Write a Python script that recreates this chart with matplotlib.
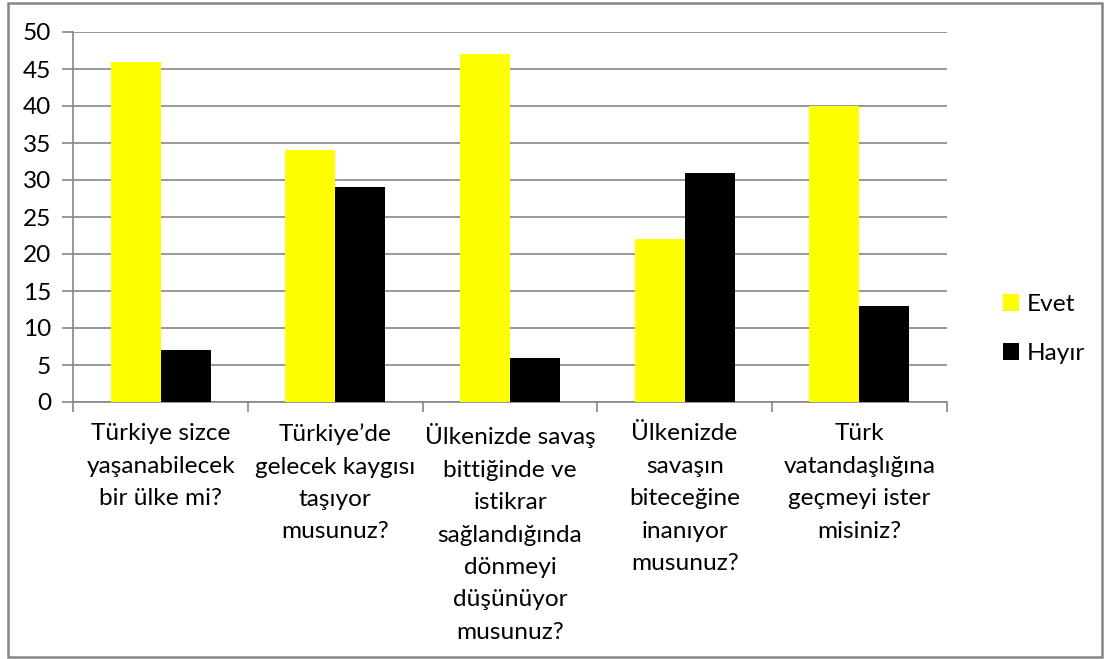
import matplotlib
matplotlib.use("Agg")
import matplotlib.pyplot as plt
from matplotlib.patches import Rectangle, Patch
import numpy as np

categories = [
    "Türkiye sizce\nyaşanabilecek\nbir ülke mi?",
    "Türkiye’de\ngelecek kaygısı\ntaşıyor\nmusunuz?",
    "Ülkenizde savaş\nbittiğinde ve\nistikrar\nsağlandığında\ndönmeyi\ndüşünüyor\nmusunuz?",
    "Ülkenizde\nsavaşın\nbiteceğine\ninanıyor\nmusunuz?",
    "Türk\nvatandaşlığına\ngeçmeyi ister\nmisiniz?",
]
evet = [46, 34, 47, 22, 40]
hayir = [7, 29, 6, 31, 13]
series_names = ["Evet", "Hayır"]
yticks = [0, 5, 10, 15, 20, 25, 30, 35, 40, 45, 50]

plt.rcParams['font.family'] = ['Lato', 'DejaVu Sans']
FS = 17.6
GRID = '#868686'

fig = plt.figure(figsize=(11.18, 6.59), dpi=100)
W, H = 1118, 659
ax = fig.add_axes([73.3 / W, 1 - 402 / H, (946.7 - 73.3) / W, (402 - 32) / H])

x = np.arange(len(categories))
bw = 1 / 3.5
ax.bar(x - bw / 2, evet, width=bw, color='#FFFF00', label=series_names[0], zorder=3)
ax.bar(x + bw / 2, hayir, width=bw, color='#000000', label=series_names[1], zorder=3)

ax.set_xlim(-0.5, len(categories) - 0.5)
ax.set_ylim(0, 50)
ax.set_yticks(yticks)
ax.set_yticklabels([str(v) for v in yticks], fontsize=FS)
ax.yaxis.grid(True, color=GRID, linewidth=1.2, zorder=0)
ax.set_axisbelow(True)
ax.tick_params(axis='y', length=8, width=1.2, color=GRID, pad=8)
ax.set_xticks(np.arange(-0.5, len(categories), 1.0))
ax.set_xticklabels([])
ax.tick_params(axis='x', length=7, width=1.2, color=GRID)
for s in ['top', 'right']:
    ax.spines[s].set_visible(False)
for s in ['left', 'bottom']:
    ax.spines[s].set_color(GRID)
    ax.spines[s].set_linewidth(1.2)

for i, lab in enumerate(categories):
    ax.text(i, -0.058, lab, transform=ax.get_xaxis_transform(), ha='center', va='top',
            fontsize=FS, linespacing=1.67, multialignment='center')

handles = [Patch(facecolor='#FFFF00'), Patch(facecolor='#000000')]
fig.legend(handles, series_names, loc='center left', bbox_to_anchor=(991 / W, 1 - 329 / H),
           frameon=False, fontsize=FS, handlelength=0.65, handleheight=0.65,
           handletextpad=0.3, labelspacing=1.15, borderpad=0)

fig.patches.append(Rectangle((8 / W, 1 - 657 / H), (1102 - 8) / W, (657 - 3) / H,
                             transform=fig.transFigure, fill=False, edgecolor=GRID,
                             linewidth=1.8))

fig.savefig("out.png", dpi=100)
